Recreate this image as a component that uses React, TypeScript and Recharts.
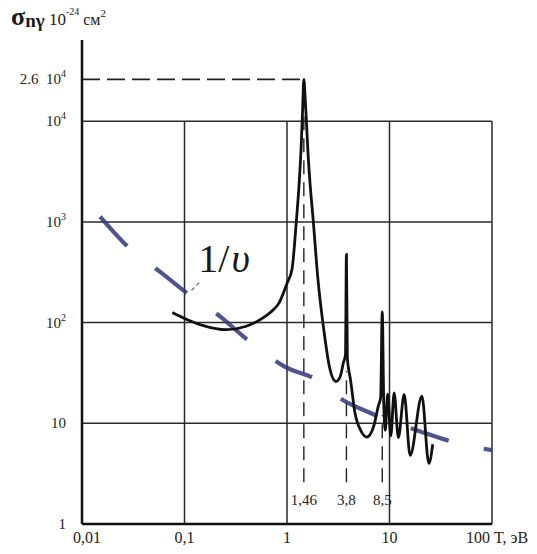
import React from 'react';
import { LineChart, Line, XAxis, YAxis, ReferenceLine, ReferenceDot } from 'recharts';

// ---- data ----
const xTicks = [0.01, 0.1, 1, 10, 100];
const xTickLabels = ['0,01', '0,1', '1', '10', '100'];
const yTicks = [1, 10, 100, 1000, 10000, 26000];
const gridX = [0.1, 1, 10, 100];
const gridY = [10, 100, 1000, 10000];

const energy = [0.076, 0.1, 0.15, 0.256, 0.4, 0.53, 0.7, 0.84, 1.0, 1.12, 1.23, 1.31, 1.37, 1.42, 1.46, 1.5, 1.55, 1.6, 1.66, 1.81, 2.0, 2.3, 2.6, 3.0, 3.3, 3.55, 3.72, 3.8, 3.88, 4.0, 4.14, 4.6, 5.3, 6.0, 7.0, 7.8, 8.2, 8.5, 8.8, 9.1, 9.6, 10.3, 11.1, 12.2, 13.9, 15.9, 20.7, 24.2, 26.4];
const sigma = [126, 110, 94, 85, 92, 105, 128, 158, 245, 340, 980, 2300, 5200, 13000, 26000, 18000, 9500, 5000, 2800, 980, 275, 81, 36, 26, 29, 40, 48, 475, 45, 34, 28, 12.7, 8.3, 7.3, 9.3, 15, 18, 128, 15, 8.5, 19.5, 7.5, 20, 7.2, 19.4, 4.8, 18.6, 4.0, 6.2];

const invVEnergy = [0.015, 0.03, 0.06, 0.1, 0.23, 0.38, 0.93, 2.2, 3.0, 6.7, 20, 40, 100];
const invVSigma = [1130, 530, 310, 205, 112, 72, 37, 25, 19, 12.5, 8.3, 6.6, 5.4];

const resonances = [1.46, 3.8, 8.5];
const resonanceLabels = ['1,46', '3,8', '8,5'];
const resonanceTops = [26000, 33, 12];
const peakValue = 26000;

const mainData = energy.map((x, i) => ({ x, y: sigma[i] }));
const invVData = invVEnergy.map((x, i) => ({ x, y: invVSigma[i] }));

const FONT = '"Liberation Serif", "DejaVu Serif", serif';

const XTick = (props: any) => {
  const { x, payload } = props;
  const i = xTicks.indexOf(payload.value);
  const label = xTickLabels[i] ?? String(payload.value);
  if (payload.value === 100) {
    return (
      <text x={x - 26} y={543} textAnchor="start" fontFamily={FONT} fontSize={16} fill="#222">
        {label}{'\u00a0'}T,{'\u00a0'}эВ
      </text>
    );
  }
  const dx = payload.value === 0.01 ? 5 : 0;
  return (
    <text x={x + dx} y={543} textAnchor="middle" fontFamily={FONT} fontSize={16} fill="#222">
      {label}
    </text>
  );
};

const YTick = (props: any) => {
  const { y, payload } = props;
  const v = payload.value;
  const common = { x: 66, y: y + 5, textAnchor: 'end' as const, fontFamily: FONT, fontSize: 15, fill: '#222' };
  if (v === 1) return <text {...common}>1</text>;
  if (v === 10) return <text {...common}>10</text>;
  if (v === 26000)
    return (
      <text {...common}>
        2.6{'\u00a0\u00a0'}10<tspan dy={-7} fontSize={10}>4</tspan>
      </text>
    );
  const exp = Math.round(Math.log10(v));
  return (
    <text {...common}>
      10<tspan dy={-7} fontSize={10}>{exp}</tspan>
    </text>
  );
};

const OneOverV = (props: any) => {
  const vb = props.viewBox || {};
  const x = (vb.x ?? 0) + (vb.width ?? 0) / 2;
  const y = (vb.y ?? 0) + (vb.height ?? 0) / 2;
  return (
    <text x={x - 3} y={y} fontFamily={FONT} fontSize={40} fill="#1a1a1a">
      1/<tspan fontStyle="italic" dx={2}>υ</tspan>
    </text>
  );
};

export default function App() {
  return (
    <div style={{ position: 'absolute', left: 0, top: 0, width: 537, height: 554, background: '#fff' }}>
      <LineChart width={537} height={554} margin={{ top: 40, right: 45, bottom: 0, left: 0 }}>
        <XAxis
          dataKey="x"
          type="number"
          scale="log"
          domain={[0.01, 100]}
          allowDataOverflow
          ticks={xTicks}
          interval={0}
          tick={XTick}
          tickLine={false}
          axisLine={{ stroke: '#111', strokeWidth: 2.5 }}
          height={30}
        />
        <YAxis
          dataKey="y"
          type="number"
          scale="log"
          domain={[1, 64000]}
          allowDataOverflow
          ticks={yTicks}
          interval={0}
          tick={YTick}
          tickLine={false}
          axisLine={{ stroke: '#111', strokeWidth: 2.5 }}
          width={82}
        />
        {gridY.map((v) => (
          <ReferenceLine
            key={'gy' + v}
            segment={[{ x: 0.01, y: v }, { x: 100, y: v }]}
            stroke="#2a2a2a"
            strokeWidth={1.5}
          />
        ))}
        {gridX.map((v) => (
          <ReferenceLine
            key={'gx' + v}
            segment={[{ x: v, y: 1 }, { x: v, y: 10000 }]}
            stroke="#2a2a2a"
            strokeWidth={1.5}
          />
        ))}
        <ReferenceLine
          segment={[{ x: 0.01, y: peakValue }, { x: resonances[0], y: peakValue }]}
          stroke="#222"
          strokeWidth={1.6}
          strokeDasharray="18 7"
        />
        {resonances.map((r, i) => (
          <ReferenceLine
            key={'rl' + r}
            segment={[{ x: r, y: 2.6 }, { x: r, y: resonanceTops[i] }]}
            stroke="#222"
            strokeWidth={1.4}
            strokeDasharray="14 8"
          />
        ))}
        {resonances.map((r, i) => (
          <ReferenceDot
            key={'rd' + r}
            x={r}
            y={1.73}
            r={1}
            fill="none"
            stroke="none"
            label={{ value: resonanceLabels[i], position: 'center', fill: '#222', fontSize: 15, fontFamily: FONT }}
          />
        ))}
        <ReferenceLine
          segment={[{ x: 0.117, y: 209 }, { x: 0.146, y: 262 }]}
          stroke="#555"
          strokeWidth={1.1}
          strokeDasharray="4 3"
        />
        <ReferenceDot x={0.146} y={315} r={1} fill="none" stroke="none" label={<OneOverV />} />
        <Line
          data={invVData}
          dataKey="y"
          type="monotone"
          stroke="#33357d"
          strokeOpacity={0.85}
          strokeWidth={4.2}
          strokeDasharray="40 36"
          dot={false}
          isAnimationActive={false}
        />
        <Line
          data={mainData}
          dataKey="y"
          type="monotone"
          stroke="#111"
          strokeWidth={2.8}
          dot={false}
          isAnimationActive={false}
        />
      </LineChart>
      <svg width={260} height={36} style={{ position: 'absolute', left: 0, top: 0 }}>
        <text x={11} y={25} fontFamily={FONT} fill="#1a1a1a">
          <tspan fontSize={26} fontWeight="bold">σ</tspan>
          <tspan fontSize={19} fontWeight="bold" dy={2}>nγ</tspan>
          <tspan fontSize={17} dy={-2}>{'\u00a0'}10</tspan>
          <tspan fontSize={10} dy={-10}>-24</tspan>
          <tspan fontSize={16} dy={10}>{'\u00a0'}см</tspan>
          <tspan fontSize={11} dy={-8}>2</tspan>
        </text>
      </svg>
    </div>
  );
}
